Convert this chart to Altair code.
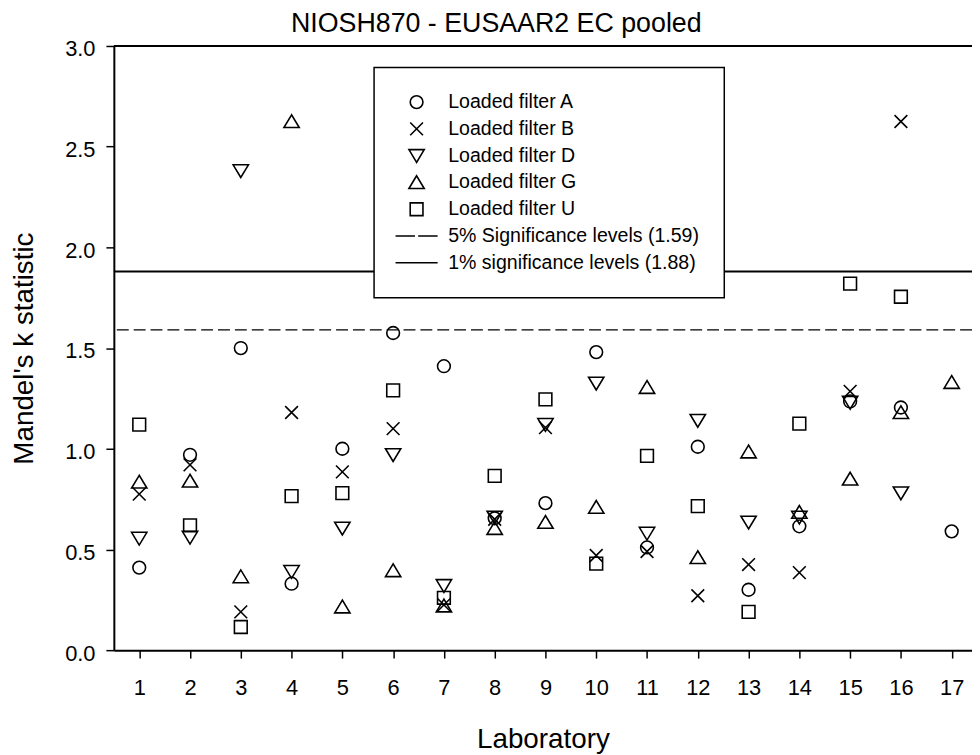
import altair as alt
import pandas as pd

labs = list(range(1, 18))
series_names = ["Loaded filter A", "Loaded filter B", "Loaded filter D",
                "Loaded filter G", "Loaded filter U"]
line_names = ["5% Significance levels (1.59)", "1% significance levels (1.88)"]

filter_A = [0.41, 0.97, 1.50, 0.33, 1.00, 1.575, 1.41, 0.655, 0.73, 1.48, 0.51, 1.01, 0.30, 0.615, 1.235, 1.205, 0.59]
filter_B = [0.775, 0.92, 0.19, 1.18, 0.885, 1.10, 0.225, 0.65, 1.105, 0.47, 0.49, 0.27, 0.425, 0.385, 1.285, 2.625, None]
filter_D = [0.555, 0.56, 2.38, 0.39, 0.605, 0.97, 0.32, 0.66, 1.12, 1.325, 0.58, 1.14, 0.635, 0.66, 1.23, 0.78, None]
filter_G = [0.835, 0.84, 0.365, 2.625, 0.215, 0.395, 0.22, 0.605, 0.635, 0.71, 1.305, 0.46, 0.985, 0.685, 0.85, 1.18, 1.33]
filter_U = [1.12, 0.62, 0.115, 0.765, 0.78, 1.29, 0.26, 0.865, 1.245, 0.43, 0.965, 0.715, 0.19, 1.125, 1.82, 1.755, None]

sig5 = 1.59
sig1 = 1.88
y_top = 3.0

rows = []
for name, vals in zip(series_names, [filter_A, filter_B, filter_D, filter_G, filter_U]):
    for lab, v in zip(labs, vals):
        if v is not None:
            rows.append({"lab": lab, "k": v, "series": name})
df = pd.DataFrame(rows)

shapes = [
    "circle",
    "M-1,-1L1,1M-1,1L1,-1",
    "M0,1.05L-1.2,-0.95L1.2,-0.95Z",
    "M0,-1.05L-1.2,0.95L1.2,0.95Z",
    "square",
    "M-3.3,0H-0.25M0.25,0H3.3",
    "M-3.3,0H3.3",
]

FONT = "Liberation Sans"

xscale = alt.Scale(domain=[0.5, 17.4], nice=False, zero=False)
yscale = alt.Scale(domain=[0, 3], nice=False, zero=True)

x_axis = alt.Axis(values=labs, title="Laboratory", tickSize=8, labelPadding=20,
                  titlePadding=27, grid=False, labelAngle=0)
y_axis = alt.Axis(values=[0, 0.5, 1.0, 1.5, 2.0, 2.5, 3.0], format=".1f",
                  title="Mandel's k statistic", tickSize=8, labelPadding=11,
                  titlePadding=26, grid=False, labelOffset=3)

points = alt.Chart(df).mark_point(
    filled=False, size=165, strokeWidth=1.6, color="black", opacity=1
).encode(
    x=alt.X("lab:Q", scale=xscale, axis=x_axis),
    y=alt.Y("k:Q", scale=yscale, axis=y_axis),
    shape=alt.Shape(
        "series:N",
        scale=alt.Scale(domain=series_names + line_names, range=shapes),
        legend=alt.Legend(
            title=None, orient="none", legendX=262.3, legendY=21.7,
            padding=25, rowPadding=6.0, strokeColor="black", fillColor="white",
            labelFontSize=19.7, labelFont=FONT, labelColor="black", labelLimit=600,
            symbolSize=165, symbolStrokeWidth=1.6, symbolStrokeColor="black",
            symbolFillColor="transparent", symbolOffset=8.0, labelOffset=22.0,
        ),
    ),
)

rule5 = alt.Chart(pd.DataFrame({"k": [sig5]})).mark_rule(
    color="black", strokeWidth=1.3, strokeDash=[12, 5]
).encode(y=alt.Y("k:Q", scale=yscale))

rule1 = alt.Chart(pd.DataFrame({"k": [sig1]})).mark_rule(
    color="black", strokeWidth=2
).encode(y=alt.Y("k:Q", scale=yscale))

top_line = alt.Chart(pd.DataFrame({"k": [y_top]})).mark_rule(
    color="black", strokeWidth=2
).encode(y=alt.Y("k:Q", scale=yscale))

chart = alt.layer(rule5, rule1, top_line, points).properties(
    width=865,
    height=609,
    autosize=alt.AutoSizeParams(type="none"),
    padding={"left": 106.7, "top": 35.3, "right": 0, "bottom": 102.7},
    title=alt.TitleParams(
        text="NIOSH870 - EUSAAR2 EC pooled", fontSize=27, font=FONT,
        fontWeight="normal", color="black", anchor="middle", frame="group",
        dx=-47, offset=0,
    ),
).configure_view(stroke=None).configure_axis(
    labelFont=FONT, labelFontSize=22, labelColor="black",
    titleFont=FONT, titleFontSize=28, titleFontWeight="normal", titleColor="black",
    domainColor="black", domainWidth=2, tickColor="black", tickWidth=1.5,
).configure_legend(strokeWidth=1.5)

chart.save("out.html", embed_options={"renderer": "svg", "actions": False})
